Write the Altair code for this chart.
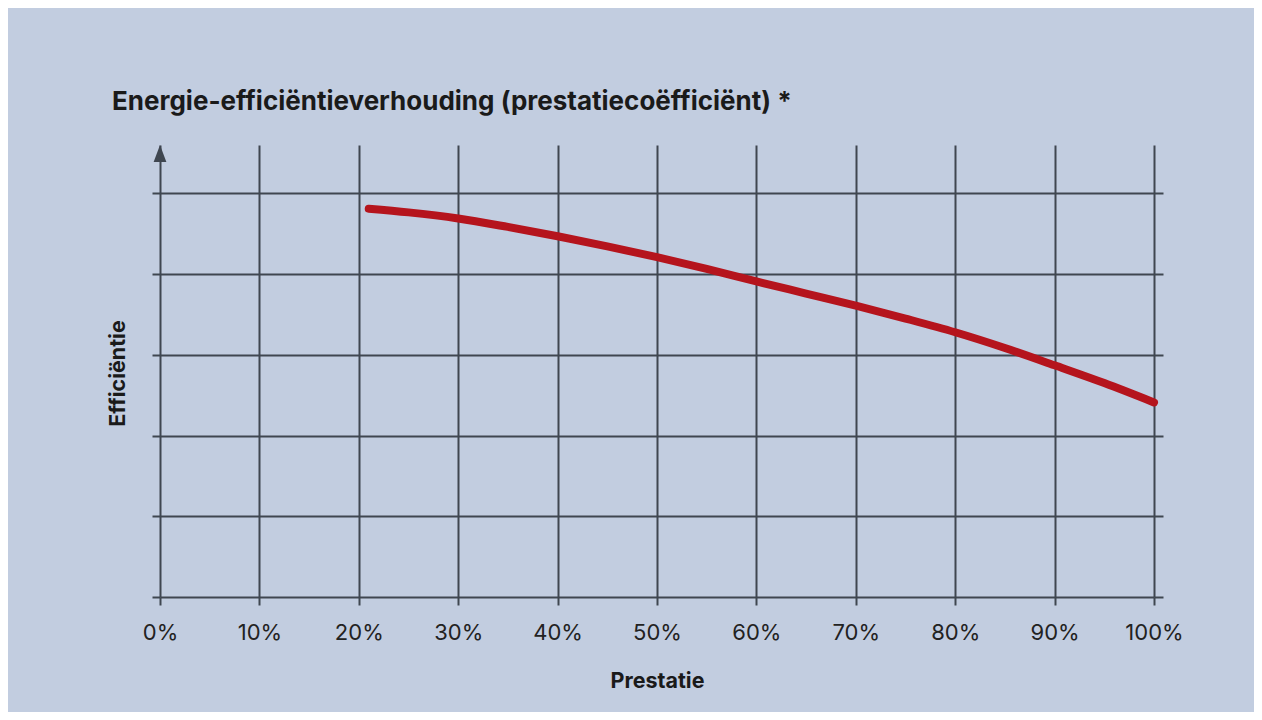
import altair as alt
import pandas as pd

# Curve values
prestatie = [21, 25, 30, 35, 40, 45, 50, 55, 60, 65, 70, 75, 80, 85, 90, 95, 100]
efficientie = [4.81, 4.765, 4.69, 4.585, 4.47, 4.345, 4.21, 4.065, 3.91, 3.76, 3.61, 3.45, 3.28, 3.085, 2.87, 2.65, 2.41]

x_ticks = [0, 10, 20, 30, 40, 50, 60, 70, 80, 90, 100]
y_ticks = [0, 1, 2, 3, 4, 5]
y_top = 5.6

GRID = "#3f4650"
BG = "#c2cde0"
RED = "#b5141d"
FONT = "Inter"

df = pd.DataFrame({"x": prestatie, "y": efficientie})
arrow_df = pd.DataFrame({"x": [0], "y": [y_top]})

xscale = alt.Scale(domain=[0, 100], nice=False, zero=False)
yscale = alt.Scale(domain=[0, y_top], nice=False, zero=False)

x_enc = alt.X("x:Q", scale=xscale, axis=alt.Axis(
    values=x_ticks, labelExpr="datum.value + '%'", grid=True, gridColor=GRID,
    gridWidth=2, gridOpacity=1, ticks=True, tickSize=8, tickColor=GRID, tickWidth=2,
    domain=False, labelFont=FONT, labelFontSize=22, labelColor="#222222",
    labelBaseline="alphabetic", labelPadding=34, labelFlush=False,
    title="Prestatie", titleFont=FONT, titleFontSize=21.5, titleFontWeight="bold",
    titleColor="#1a1a1a", titleX=497, titleY=90, titleBaseline="alphabetic",
    titleAlign="center"))

line = alt.Chart(df).mark_line(
    color=RED, strokeWidth=8, strokeCap="round", interpolate="monotone"
).encode(
    x=x_enc,
    y=alt.Y("y:Q", scale=yscale, axis=alt.Axis(
        values=y_ticks, labels=False, grid=True, gridColor=GRID, gridWidth=2,
        gridOpacity=1, ticks=True, tickSize=8, tickColor=GRID, tickWidth=2,
        domain=False, title="Efficiëntie", titleFont=FONT, titleFontSize=21.5,
        titleFontWeight="bold", titleColor="#1a1a1a", titleAngle=-90,
        titleX=-36, titleY=228, titleBaseline="alphabetic", titleAlign="center")),
)

arrow = alt.Chart(arrow_df).mark_point(
    shape="M0,0L-0.75,2L0.75,2Z", size=289, filled=True, color=GRID, opacity=1
).encode(
    x=x_enc,
    y=alt.Y("y:Q", scale=yscale, axis=alt.Axis(
        orient="right", values=y_ticks, labels=False, grid=False, ticks=True,
        tickSize=9, tickColor=GRID, tickWidth=2, domain=False, title=None)),
)

chart = alt.layer(line, arrow).resolve_axis(y="independent").properties(
    width=994, height=452,
    autosize=alt.AutoSizeParams(type="none"),
    padding={"left": 152, "top": 137, "right": 100, "bottom": 115},
    background=BG,
    title=alt.TitleParams(
        "Energie-efficiëntieverhouding (prestatiecoëfficiënt) *",
        anchor="start", frame="group", dx=-48, offset=9, baseline="alphabetic",
        font=FONT, fontSize=26, fontWeight="bold", color="#1a1a1a"),
).configure_view(stroke=None)

chart.save("out.html", embed_options={"renderer": "svg", "actions": False})
